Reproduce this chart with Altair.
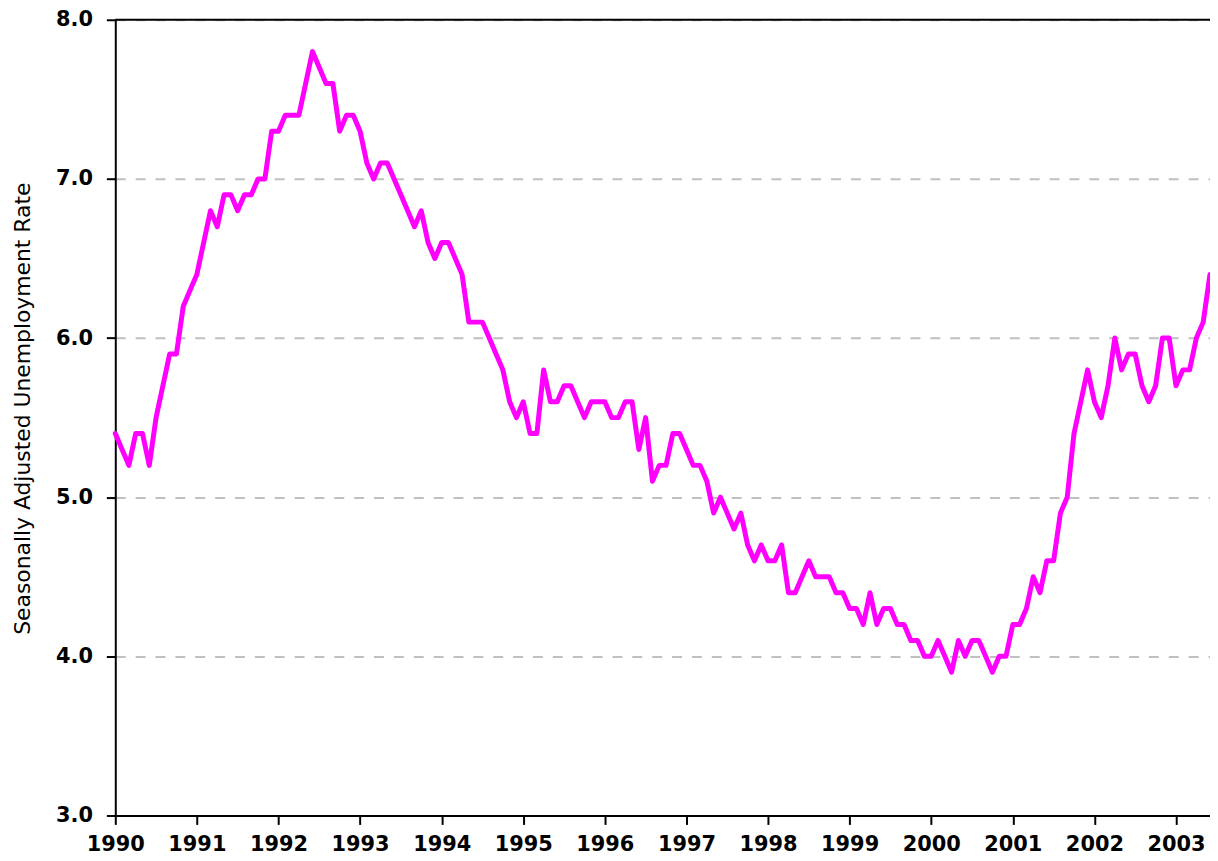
import altair as alt
import pandas as pd

# Monthly seasonally adjusted unemployment rate (%), Jan 1990 - Jun 2003
rate_1990 = [5.4, 5.3, 5.2, 5.4, 5.4, 5.2, 5.5, 5.7, 5.9, 5.9, 6.2, 6.3]
rate_1991 = [6.4, 6.6, 6.8, 6.7, 6.9, 6.9, 6.8, 6.9, 6.9, 7.0, 7.0, 7.3]
rate_1992 = [7.3, 7.4, 7.4, 7.4, 7.6, 7.8, 7.7, 7.6, 7.6, 7.3, 7.4, 7.4]
rate_1993 = [7.3, 7.1, 7.0, 7.1, 7.1, 7.0, 6.9, 6.8, 6.7, 6.8, 6.6, 6.5]
rate_1994 = [6.6, 6.6, 6.5, 6.4, 6.1, 6.1, 6.1, 6.0, 5.9, 5.8, 5.6, 5.5]
rate_1995 = [5.6, 5.4, 5.4, 5.8, 5.6, 5.6, 5.7, 5.7, 5.6, 5.5, 5.6, 5.6]
rate_1996 = [5.6, 5.5, 5.5, 5.6, 5.6, 5.3, 5.5, 5.1, 5.2, 5.2, 5.4, 5.4]
rate_1997 = [5.3, 5.2, 5.2, 5.1, 4.9, 5.0, 4.9, 4.8, 4.9, 4.7, 4.6, 4.7]
rate_1998 = [4.6, 4.6, 4.7, 4.4, 4.4, 4.5, 4.6, 4.5, 4.5, 4.5, 4.4, 4.4]
rate_1999 = [4.3, 4.3, 4.2, 4.4, 4.2, 4.3, 4.3, 4.2, 4.2, 4.1, 4.1, 4.0]
rate_2000 = [4.0, 4.1, 4.0, 3.9, 4.1, 4.0, 4.1, 4.1, 4.0, 3.9, 4.0, 4.0]
rate_2001 = [4.2, 4.2, 4.3, 4.5, 4.4, 4.6, 4.6, 4.9, 5.0, 5.4, 5.6, 5.8]
rate_2002 = [5.6, 5.5, 5.7, 6.0, 5.8, 5.9, 5.9, 5.7, 5.6, 5.7, 6.0, 6.0]
rate_2003 = [5.7, 5.8, 5.8, 6.0, 6.1, 6.4]

start_year = 1990
year_ticks = list(range(1990, 2004))
y_ticks = [3.0, 4.0, 5.0, 6.0, 7.0, 8.0]
y_title = "Seasonally Adjusted Unemployment Rate"

all_rates = (rate_1990 + rate_1991 + rate_1992 + rate_1993 + rate_1994 + rate_1995
             + rate_1996 + rate_1997 + rate_1998 + rate_1999 + rate_2000 + rate_2001
             + rate_2002 + rate_2003)

df = pd.DataFrame({"month": list(range(len(all_rates))), "rate": all_rates})
top_df = pd.DataFrame({"rate": [max(y_ticks)]})

FONT = "DejaVu Sans"

x_enc = alt.X(
    "month:Q",
    scale=alt.Scale(domain=[0, len(all_rates) - 1], nice=False, zero=False),
    axis=alt.Axis(
        values=[(y - start_year) * 12 for y in year_ticks],
        labelExpr=f"format({start_year} + datum.value / 12, 'd')",
        title=None,
        grid=False,
        domainColor="#000000", domainWidth=2,
        tickColor="#000000", tickWidth=2, tickSize=9,
        labelFont=FONT, labelFontSize=21, labelFontWeight="bold",
        labelColor="#000000", labelPadding=9, labelFlush=False,
        labelOverlap=False,
    ),
)

y_enc = alt.Y(
    "rate:Q",
    scale=alt.Scale(domain=[min(y_ticks), max(y_ticks)], nice=False, zero=False),
    axis=alt.Axis(
        values=y_ticks,
        format=".1f",
        title=y_title,
        grid=True, gridColor="#c0c0c0", gridDash=[10, 10], gridWidth=2,
        domainColor="#000000", domainWidth=2,
        tickColor="#000000", tickWidth=2, tickSize=9,
        labelFont=FONT, labelFontSize=21, labelFontWeight="bold",
        labelColor="#000000", labelPadding=14,
        titleFont=FONT, titleFontSize=22, titleFontWeight="normal",
        titleColor="#000000", titleX=-93, titleY=391,
        titleAlign="center", titleBaseline="middle", titleAngle=270,
    ),
)

line = alt.Chart(df).mark_line(
    color="#FF00FF", strokeWidth=5, strokeJoin="round", strokeCap="round"
).encode(x=x_enc, y=y_enc)

top_border = alt.Chart(top_df).mark_rule(color="#000000", strokeWidth=2).encode(
    y="rate:Q"
)

chart = alt.layer(line, top_border).properties(
    width=1102,
    height=801,
    autosize=alt.AutoSizeParams(type="none"),
    padding={"left": 108, "top": 9, "right": 0, "bottom": 45},
).configure_view(stroke=None)

chart.save("out.html", embed_options={"renderer": "svg", "actions": False})
